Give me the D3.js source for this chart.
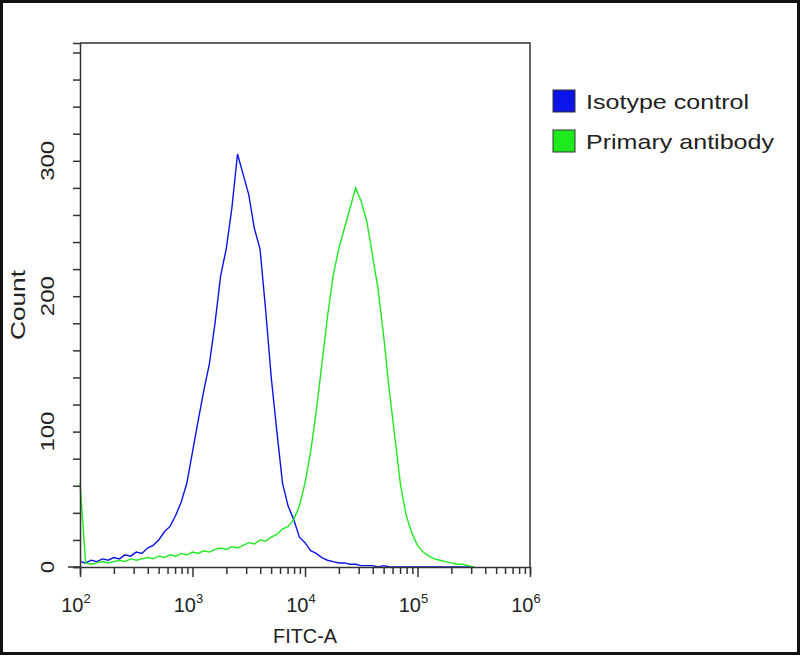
<!DOCTYPE html>
<html><head><meta charset="utf-8">
<script src="https://cdn.jsdelivr.net/npm/d3@7"></script>
<style>body{margin:0;background:#fff}svg{display:block}</style>
</head><body>
<svg width="800" height="656"></svg>
<script>
// bins are log10(FITC-A) from 2.00 in steps of 0.05
var binStart = 2.0, binStep = 0.05;
var isotype = [4,3,5,4,6,5,7,6,9,8,11,10,14,16,20,26,30,38,48,62,85,108,130,150,180,215,235,265,305,290,275,250,235,190,140,100,62,45,35,22,18,12,10,7,5,4,3,3,2,2,1,1,1,0,1,0,0,0,0,0,0,0,0,0,0,0,0,0,0,0,0];
var primary = [62,3,2,3,4,3,4,5,4,6,5,6,7,6,8,7,9,8,10,9,11,10,12,11,13,14,13,15,14,16,18,17,20,19,22,24,28,30,35,45,62,85,115,150,185,215,235,250,265,280,270,255,230,205,170,130,95,60,38,25,16,11,8,6,5,4,3,2,2,1,0];
var seriesNames = ["Isotype control", "Primary antibody"];
var seriesColors = ["#0a14e6", "#1eea1e"];
var yTicks = [0, 100, 200, 300];
var xDecades = [2, 3, 4, 5, 6];

var svg = d3.select("svg");
var font = "'Liberation Sans', Arial, sans-serif";

svg.append("rect").attr("x", 1.5).attr("y", 1.5).attr("width", 797).attr("height", 652)
    .attr("fill", "none").attr("stroke", "#111").attr("stroke-width", 3);

var x = d3.scaleLog().domain([1e2, 1e6]).range([80, 530]);
var y = d3.scaleLinear().domain([0, 387]).range([567, 43]);

var g = svg.append("g");

// frame
g.append("path").attr("d", "M80,43H530V567").attr("fill", "none").attr("stroke", "#333").attr("stroke-width", 1.5);

function drawSeries(vals, color) {
  var line = d3.line()
      .x(function(d, i) { return x(Math.pow(10, binStart + i * binStep)); })
      .y(function(d) { return y(d); });
  g.append("path").datum(vals).attr("d", line)
      .attr("fill", "none").attr("stroke", color).attr("stroke-width", 1.4);
}
drawSeries(isotype, seriesColors[0]);
drawSeries(primary, seriesColors[1]);

// y axis
var yAxis = d3.axisLeft(y).tickValues(d3.range(0, 387, 20)).tickSize(7).tickFormat("");
var yG = g.append("g").attr("transform", "translate(80,0)").call(yAxis);
yG.select(".domain").attr("stroke", "#333").attr("stroke-width", 1.5);
yG.selectAll(".tick line").attr("stroke", "#333").attr("stroke-width", 1.5);
g.selectAll(".ylab").data(yTicks).enter().append("text")
    .attr("transform", function(d) { return "translate(54," + y(d) + ") rotate(-90)"; })
    .attr("text-anchor", "middle").attr("font-family", font).attr("font-size", 18).attr("fill", "#222")
    .attr("textLength", function(d) { return d === 0 ? 12 : 40; }).attr("lengthAdjust", "spacingAndGlyphs")
    .text(function(d) { return d; });

// x axis with log minor ticks
var minor = [];
for (var e = 2; e < 6; e++) for (var m = 1; m < 10; m++) minor.push(m * Math.pow(10, e));
minor.push(1e6);
var xAxis = d3.axisBottom(x).tickValues(minor).tickSize(7).tickFormat("");
var xG = g.append("g").attr("transform", "translate(0,567)").call(xAxis);
xG.select(".domain").attr("stroke", "#333").attr("stroke-width", 1.5);
xG.selectAll(".tick line").attr("stroke", "#333").attr("stroke-width", 1.5)
    .attr("y2", function(d) { return Math.abs(Math.log10(d) % 1) < 1e-9 ? 10 : 7; });
g.append("line").attr("x1", 68).attr("x2", 80).attr("y1", 567).attr("y2", 567).attr("stroke", "#333").attr("stroke-width", 1.5);

var xl = g.selectAll(".xlab").data(xDecades).enter().append("text")
    .attr("x", function(d) { return x(Math.pow(10, d)) - 4; }).attr("y", 612)
    .attr("text-anchor", "middle").attr("font-family", font).attr("font-size", 20).attr("fill", "#222");
xl.append("tspan").text("10");
xl.append("tspan").attr("dy", -9).attr("font-size", 13).text(function(d) { return d; });

svg.append("text").attr("x", 305).attr("y", 643).attr("text-anchor", "middle")
    .attr("font-family", font).attr("font-size", 20).attr("fill", "#222")
    .attr("textLength", 64).attr("lengthAdjust", "spacingAndGlyphs").text("FITC-A");
svg.append("text").attr("transform", "translate(25,305) rotate(-90)").attr("text-anchor", "middle")
    .attr("font-family", font).attr("font-size", 21).attr("fill", "#222")
    .attr("textLength", 70).attr("lengthAdjust", "spacingAndGlyphs").text("Count");

// legend
var legendWidths = [163, 188];
var lg = svg.selectAll(".leg").data(seriesNames).enter().append("g")
    .attr("transform", function(d, i) { return "translate(553," + (90 + i * 40) + ")"; });
lg.append("rect").attr("width", 22).attr("height", 22)
    .attr("fill", function(d, i) { return seriesColors[i]; }).attr("stroke", "#333");
lg.append("text").attr("x", 33).attr("y", 19).attr("font-family", font).attr("font-size", 21)
    .attr("fill", "#222").attr("textLength", function(d, i) { return legendWidths[i]; })
    .attr("lengthAdjust", "spacingAndGlyphs").text(function(d) { return d; });
</script>
</body></html>
